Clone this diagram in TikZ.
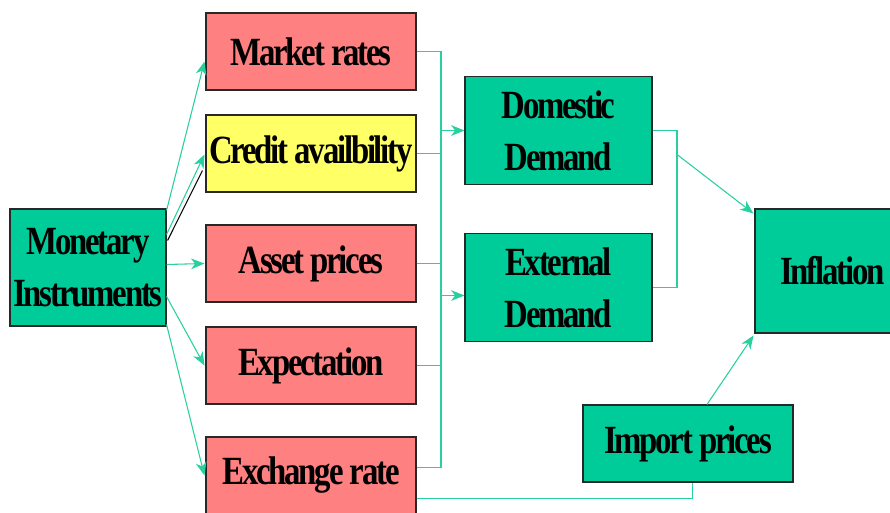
\documentclass[tikz,border=0pt]{standalone}
\usepackage{fontspec}
\usetikzlibrary{arrows.meta}
\usetikzlibrary{calc}
\newfontfamily\boxfont[FakeStretch=0.82,LetterSpace=-5.5]{Liberation Serif}

\definecolor{tealfill}{RGB}{0,204,153}
\definecolor{redfill}{RGB}{255,128,128}
\definecolor{yellowfill}{RGB}{255,255,102}
\definecolor{linkcol}{RGB}{40,208,160}

\tikzset{
  box/.style={draw={rgb,255:red,40;green,40;blue,40}, line width=0.8pt, inner sep=0pt, align=center,
    font=\boxfont\bfseries\fontsize{30}{39}\selectfont},
  smallbox/.style={box, minimum width=157.5pt, minimum height=57.75pt},
  wire/.style={color=linkcol, line width=1pt},
  wirearrow/.style={wire, line width=0.8pt, -{Stealth[length=10pt,width=8pt,inset=3pt]}}
}

\begin{document}
\begin{tikzpicture}[x=0.75pt,y=0.75pt,yscale=-1,xscale=1]
\useasboundingbox (0,0) rectangle (890,512);
\fill[white] (0,0) rectangle (890,512);

%Left column
\node[box, fill=tealfill, minimum width=117pt, minimum height=87.75pt] (monetary) at (88,267.5) {Monetary\\Instruments};
\node[smallbox, fill=redfill] (market) at (311,51.5) {Market rates};
\node[smallbox, fill=yellowfill] (credit) at (311,153.5) {Credit availbility};
\node[smallbox, fill=redfill] (asset) at (311,263.5) {Asset prices};
\node[smallbox, fill=redfill] (expect) at (311,365.5) {Expectation};
\node[smallbox, fill=redfill] (exchange) at (311,475.5) {Exchange rate};

%Demand boxes
\node[box, fill=tealfill, minimum width=140.25pt, minimum height=81pt] (domestic) at (558.5,130.5) {Domestic\\Demand};
\node[box, fill=tealfill, minimum width=140.25pt, minimum height=81pt] (external) at (558.5,287.5) {External\\Demand};

%Right side
\node[box, fill=tealfill, minimum width=116.25pt, minimum height=93pt] (inflation) at (832.5,271) {Inflation};
\node[smallbox, fill=tealfill] (import) at (688,443.5) {Import prices};

%Channels out of the instruments
\draw[wirearrow] ($(monetary.north east)+(0,2)$) -- ($(market.west)+(-1,10)$);
\draw[black, line width=0.8pt] ($(monetary.east)+(1,-27)$) -- ($(credit.west)+(-3,17)$);
\draw[wirearrow] ($(monetary.east)+(0,-33)$) -- ($(credit.west)+(-1,1)$);
\draw[wirearrow] ($(monetary.east)+(0,-3)$) -- ($(asset.west)+(-1,0)$);
\draw[wirearrow] ($(monetary.east)+(0,29)$) -- ($(expect.west)+(-1,0)$);
\draw[wirearrow] ($(monetary.east)+(0,57)$) -- ($(exchange.west)+(-1,0)$);

%Bus into demand
\coordinate (busT) at ($(market.east)+(24.5,0)$);
\coordinate (busB) at ($(exchange.east)+(24.5,-8)$);
\draw[wire] (market.east) -- (busT) -- (busB) -- ($(exchange.east)+(0,-8)$);
\draw[wire] (credit.east) -- (credit.east -| busT);
\draw[wire] (asset.east) -- (asset.east -| busT);
\draw[wire] (expect.east) -- (expect.east -| busT);
\draw[wirearrow] (domestic.west -| busT) -- (domestic.west);
\draw[wirearrow] ($(external.west -| busT)+(0,8)$) -- ($(external.west)+(0,8)$);

%Exchange rate to import prices
\draw[wire] ($(exchange.east)+(0,23)$) -| ($(import.south)+(4.5,0)$);

%Demand into inflation
\coordinate (busR) at ($(domestic.east)+(24.5,0)$);
\draw[wire] (domestic.east) -- (busR) -- (busR |- external.east) -- (external.east);
\draw[wirearrow] ($(busR)+(0,24)$) -- ($(inflation.north west)+(-1,5)$);
\draw[wirearrow] ($(import.north)+(19,0)$) -- ($(inflation.south west)+(-1,2)$);

\end{tikzpicture}
\end{document}
